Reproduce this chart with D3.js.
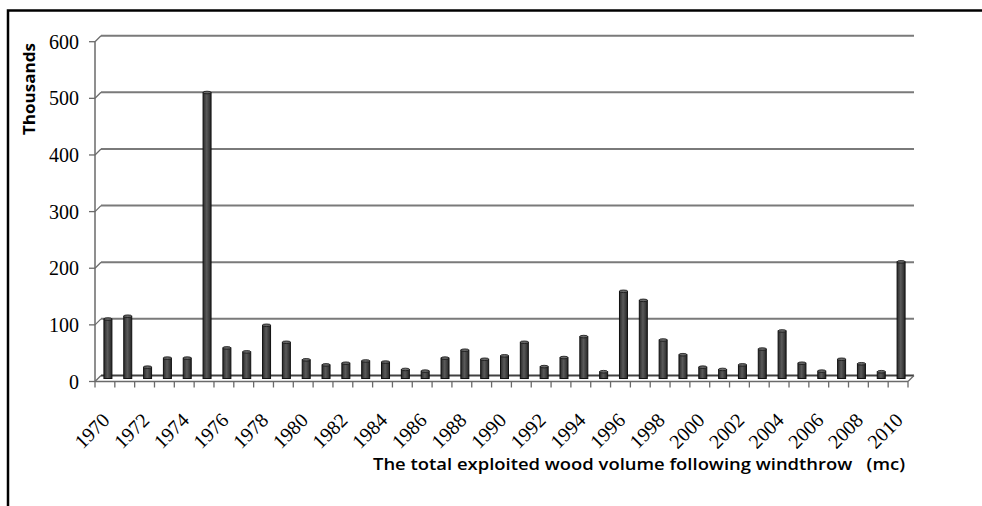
<!DOCTYPE html>
<html>
<head>
<meta charset="utf-8">
<script src="https://cdn.jsdelivr.net/npm/d3@7"></script>
<style>
  html, body { margin: 0; padding: 0; background: #fff; }
  svg { display: block; }
  .serif { font-family: "Liberation Serif", "DejaVu Serif", serif; }
  .sans { font-family: "Open Sans", "Liberation Sans", sans-serif; }
</style>
</head>
<body>
<svg id="chart" width="982" height="506"></svg>
<script>
// ---- data ----
const years = d3.range(1970, 2011).map(String);
const values = [105, 110, 20, 36, 36, 505, 54, 47, 94, 64,
                33, 24, 27, 31, 29, 16, 13, 36, 50, 34,
                40, 64, 21, 37, 74, 12, 154, 138, 68, 42,
                20, 16, 24, 52, 84, 27, 13, 34, 26, 12, 206];
const yTicks = [0, 100, 200, 300, 400, 500, 600];
const xLabels = years.filter((d, i) => i % 2 === 0);
const yTitle = "Thousands";
const xTitle = "The total exploited wood volume following windthrow   (mc)";

// ---- layout ----
const svg = d3.select("#chart");
const depthX = 6, depthY = -6;
const x = d3.scaleBand().domain(years).range([95, 908]).padding(0);
const y = d3.scaleLinear().domain([0, 600]).range([381.5, 41.7]);

// frame
svg.append("rect").attr("x", 8).attr("y", 10.5).attr("width", 1000).attr("height", 600)
  .attr("fill", "none").attr("stroke", "#000").attr("stroke-width", 2.5);

// gradient for bars
const defs = svg.append("defs");
const g = defs.append("linearGradient").attr("id", "barGrad").attr("x1", "0").attr("x2", "1").attr("y1", "0").attr("y2", "0");
g.append("stop").attr("offset", "0%").attr("stop-color", "#2a2a2a");
g.append("stop").attr("offset", "45%").attr("stop-color", "#5a5a5a");
g.append("stop").attr("offset", "100%").attr("stop-color", "#262626");

// gridlines on back wall + diagonal links + y ticks
const grid = svg.append("g");
yTicks.forEach(v => {
  const yy = y(v);
  if (v > 0) {
    grid.append("line").attr("x1", 95 + depthX).attr("x2", 908 + depthX)
      .attr("y1", yy + depthY).attr("y2", yy + depthY)
      .attr("stroke", "#7a7a7a").attr("stroke-width", 2);
  }
  grid.append("line").attr("x1", 95).attr("y1", yy).attr("x2", 95 + depthX).attr("y2", yy + depthY)
    .attr("stroke", "#6a6a6a").attr("stroke-width", 1.3);
  grid.append("line").attr("x1", 89).attr("x2", 95).attr("y1", yy).attr("y2", yy)
    .attr("stroke", "#6a6a6a").attr("stroke-width", 1.3);
});

// floor
svg.append("line").attr("x1", 95 + depthX).attr("x2", 908 + depthX)
  .attr("y1", y(0) + depthY).attr("y2", y(0) + depthY)
  .attr("stroke", "#404040").attr("stroke-width", 2);
svg.append("line").attr("x1", 908).attr("y1", y(0)).attr("x2", 908 + depthX).attr("y2", y(0) + depthY)
  .attr("stroke", "#6a6a6a").attr("stroke-width", 1.3);

// y axis line
svg.append("line").attr("x1", 95).attr("x2", 95).attr("y1", y(600)).attr("y2", y(0))
  .attr("stroke", "#6a6a6a").attr("stroke-width", 1.5);

// bars
const bw = 8;
const bars = svg.append("g");
years.forEach((yr, i) => {
  const cx = x(yr) + x.bandwidth() / 2 + depthX / 2;
  const yTop = y(values[i]) + depthY / 2;
  const yBot = y(0) + depthY / 2;
  bars.append("rect")
    .attr("x", cx - bw / 2).attr("y", yTop)
    .attr("width", bw).attr("height", yBot - yTop)
    .attr("fill", "url(#barGrad)").attr("stroke", "#111").attr("stroke-width", 1);
  bars.append("ellipse").attr("cx", cx).attr("cy", yTop).attr("rx", bw / 2).attr("ry", 1.3)
    .attr("fill", "#6a6a6a").attr("stroke", "#111").attr("stroke-width", 0.8);
});

// front x-axis line + ticks
svg.append("line").attr("x1", 95).attr("x2", 908).attr("y1", y(0)).attr("y2", y(0))
  .attr("stroke", "#6a6a6a").attr("stroke-width", 1.5);
const tickXs = years.map(yr => x(yr)).concat([908]);
svg.append("g").selectAll("line").data(tickXs).join("line")
  .attr("x1", d => d).attr("x2", d => d).attr("y1", y(0)).attr("y2", y(0) + 6)
  .attr("stroke", "#6a6a6a").attr("stroke-width", 1.3);

// y tick labels
svg.append("g").selectAll("text").data(yTicks).join("text")
  .attr("class", "serif")
  .attr("x", 79).attr("y", d => y(d)).attr("dy", "0.35em")
  .attr("text-anchor", "end")
  .style("font-size", "20px")
  .attr("fill", "#000")
  .text(d => d);

// x tick labels
svg.append("g").selectAll("text").data(xLabels).join("text")
  .attr("class", "serif")
  .attr("transform", d => `translate(${x(d) + x.bandwidth() / 2 + 6},${y(0) + 40}) rotate(-45)`)
  .attr("text-anchor", "end")
  .style("font-size", "20px")
  .attr("fill", "#000")
  .text(d => d);

// y title
svg.append("text")
  .attr("class", "sans")
  .attr("transform", "translate(35,89) rotate(-90)")
  .attr("text-anchor", "middle")
  .style("font-weight", "bold")
  .style("font-size", "16px")
  .attr("textLength", 92).attr("lengthAdjust", "spacingAndGlyphs")
  .text(yTitle);

// x title
svg.append("text")
  .attr("class", "sans")
  .attr("x", 373).attr("y", 470)
  .style("font-weight", "600")
  .style("font-size", "16px")
  .attr("textLength", 532).attr("lengthAdjust", "spacingAndGlyphs")
  .style("white-space", "pre")
  .text(xTitle);
</script>
</body>
</html>
